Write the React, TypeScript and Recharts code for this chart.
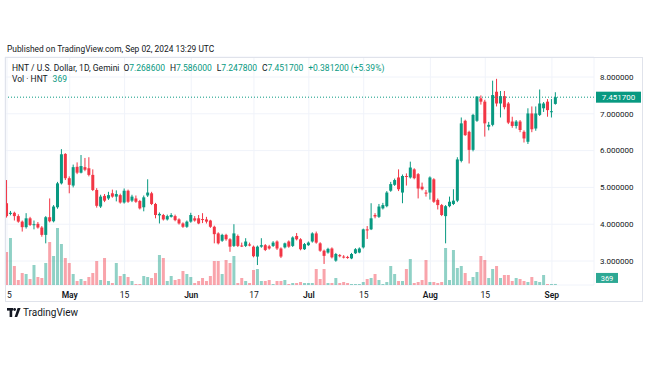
import { Bar, CartesianGrid, Cell, ComposedChart, ReferenceLine, XAxis, YAxis } from 'recharts'

const UP = '#089981'
const DOWN = '#f23645'
const UP_VOL = 'rgba(8,153,129,0.45)'
const DOWN_VOL = 'rgba(242,54,69,0.45)'
const TEXT = '#131722'
const FONT = 'Roboto, "Open Sans", sans-serif'

// HNT/USD daily candles on Gemini, Apr 15 -> Sep 02 2024 (index 0 = Apr 15)
const open = [
  4.57, 4.28, 4.31, 4.22, 4.07, 3.92, 4.16, 3.98, 4.01, 3.91,
  3.71, 4.19, 4.08, 4.46, 5.11, 5.91, 5.25, 5.05, 5.56, 5.40,
  5.55, 5.52, 5.34, 4.93, 4.48, 4.77, 4.70, 4.84, 4.75, 4.79,
  4.59, 4.91, 4.64, 4.70, 4.63, 4.46, 4.78, 4.84, 4.55, 4.24,
  4.25, 4.13, 4.20, 4.22, 4.13, 4.02, 3.93, 4.07, 4.16, 4.16,
  4.14, 4.13, 4.10, 3.93, 3.75, 3.55, 3.71, 3.59, 3.41, 3.68,
  3.42, 3.41, 3.45, 3.39, 3.12, 3.39, 3.43, 3.40, 3.41, 3.53,
  3.34, 3.37, 3.53, 3.41, 3.68, 3.59, 3.32, 3.43, 3.53, 3.75,
  3.48, 3.28, 3.23, 3.34, 3.01, 3.16, 3.12, 3.11, 3.07, 3.21,
  3.23, 3.37, 3.86, 3.86, 4.25, 4.20, 4.43, 4.49, 4.91, 5.07,
  5.27, 4.86, 5.31, 5.27, 5.49, 5.36, 5.02, 4.86, 4.86, 5.22,
  4.66, 4.52, 4.22, 4.49, 4.55, 4.64, 5.72, 6.81, 6.51, 6.02,
  6.81, 7.42, 7.33, 6.65, 6.70, 7.60, 7.28, 7.48, 7.28, 6.79,
  6.67, 6.79, 6.51, 6.24, 7.01, 6.60, 6.97, 7.15, 7.33, 7.05,
  7.2686,
]
const high = [
  5.20, 4.36, 4.34, 4.27, 4.10, 4.30, 4.20, 4.10, 4.06, 3.95,
  4.22, 4.70, 4.52, 5.15, 6.04, 5.93, 5.30, 5.62, 5.68, 5.88,
  5.80, 5.82, 5.49, 4.98, 4.80, 4.82, 4.88, 4.94, 4.92, 4.83,
  4.97, 4.94, 4.80, 4.78, 4.66, 4.78, 5.22, 4.88, 4.58, 4.32,
  4.28, 4.26, 4.30, 4.26, 4.16, 4.05, 4.10, 4.31, 4.22, 4.25,
  4.30, 4.20, 4.12, 3.96, 3.78, 3.74, 3.74, 3.62, 4.00, 3.72,
  3.50, 3.62, 3.50, 3.42, 3.42, 3.62, 3.46, 3.44, 3.54, 3.56,
  3.37, 3.50, 3.56, 3.67, 3.76, 3.62, 3.49, 3.53, 3.78, 3.80,
  3.51, 3.31, 3.36, 3.37, 3.22, 3.19, 3.16, 3.14, 3.22, 3.35,
  3.37, 3.88, 3.95, 4.57, 4.30, 4.55, 4.58, 4.90, 5.15, 5.24,
  5.49, 5.35, 5.38, 5.70, 5.52, 5.39, 5.13, 4.93, 5.30, 5.25,
  4.70, 4.55, 4.52, 4.75, 4.95, 5.82, 6.90, 6.84, 6.54, 7.00,
  7.47, 7.50, 7.38, 6.78, 7.90, 7.95, 7.62, 7.62, 7.32, 6.92,
  6.83, 6.83, 6.55, 7.15, 7.20, 7.20, 7.66, 7.32, 7.40, 7.40,
  7.586,
]
const low = [
  4.18, 4.24, 4.10, 4.04, 3.80, 3.88, 3.95, 3.86, 3.88, 3.66,
  3.48, 4.05, 4.05, 4.42, 5.08, 5.20, 4.84, 5.00, 5.36, 5.38,
  5.44, 5.30, 4.90, 4.45, 4.44, 4.60, 4.66, 4.72, 4.62, 4.56,
  4.56, 4.58, 4.60, 4.58, 4.40, 4.35, 4.74, 4.52, 4.16, 4.02,
  4.10, 4.10, 4.18, 4.08, 3.99, 3.90, 3.90, 4.04, 4.07, 4.00,
  4.03, 4.02, 3.90, 3.48, 3.45, 3.52, 3.55, 3.25, 3.38, 3.38,
  3.38, 3.38, 3.40, 3.10, 2.89, 3.36, 3.27, 3.31, 3.38, 3.30,
  3.08, 3.34, 3.36, 3.38, 3.56, 3.29, 3.30, 3.41, 3.50, 3.47,
  3.25, 2.92, 3.20, 3.07, 2.98, 3.10, 3.07, 3.06, 3.05, 3.19,
  3.21, 3.34, 3.60, 3.84, 4.16, 4.17, 4.40, 4.46, 4.88, 5.04,
  4.90, 4.57, 5.05, 5.24, 5.22, 4.70, 4.92, 4.75, 4.67, 4.58,
  4.40, 4.22, 3.48, 4.46, 4.52, 4.60, 5.68, 6.40, 5.65, 5.98,
  6.78, 7.25, 6.38, 6.55, 6.66, 7.20, 6.90, 7.12, 6.72, 6.62,
  6.60, 6.50, 6.22, 6.18, 6.50, 6.54, 6.94, 7.05, 6.92, 6.90,
  7.2478,
]
const close = [
  4.22, 4.31, 4.22, 4.07, 3.92, 4.16, 3.98, 4.00, 3.91, 3.71,
  4.19, 4.08, 4.48, 5.11, 5.90, 5.25, 5.07, 5.55, 5.40, 5.58,
  5.48, 5.34, 4.93, 4.50, 4.75, 4.64, 4.79, 4.75, 4.82, 4.59,
  4.91, 4.61, 4.75, 4.61, 4.43, 4.73, 4.86, 4.55, 4.25, 4.28,
  4.13, 4.22, 4.25, 4.11, 4.02, 3.93, 4.07, 4.25, 4.10, 4.02,
  4.12, 4.07, 3.93, 3.73, 3.48, 3.71, 3.59, 3.39, 3.75, 3.41,
  3.41, 3.53, 3.42, 3.13, 3.39, 3.43, 3.30, 3.34, 3.50, 3.34,
  3.12, 3.48, 3.39, 3.64, 3.59, 3.32, 3.46, 3.50, 3.75, 3.50,
  3.28, 3.14, 3.33, 3.10, 3.19, 3.13, 3.10, 3.09, 3.19, 3.32,
  3.34, 3.86, 3.83, 4.16, 4.21, 4.48, 4.52, 4.86, 5.09, 5.20,
  4.95, 5.31, 5.29, 5.54, 5.25, 4.97, 4.95, 4.83, 5.27, 4.61,
  4.52, 4.25, 4.49, 4.61, 4.64, 5.76, 6.74, 6.42, 6.02, 6.97,
  7.47, 7.33, 6.74, 6.70, 7.51, 7.28, 7.48, 7.18, 6.76, 6.67,
  6.79, 6.56, 6.33, 7.01, 6.58, 7.01, 7.28, 7.28, 7.10, 7.07,
  7.4517,
]
const volume = [
  11550, 16450, 6650, 1750, 4200, 3850, 2100, 7000, 2800, 2450,
  7700, 15050, 10150, 19950, 14350, 9450, 7700, 3850, 1400, 2100,
  1400, 2800, 4200, 8400, 1750, 9450, 1400, 700, 7700, 3150,
  3850, 2800, 1400, 350, 350, 3150, 2800, 2450, 4200, 10500,
  9450, 1400, 3150, 1750, 2100, 4900, 3850, 2800, 700, 1400,
  2450, 1400, 3150, 8400, 8400, 3850, 8750, 7700, 10150, 700,
  2450, 1400, 700, 5250, 5600, 1400, 1400, 1750, 350, 1400,
  1400, 1750, 350, 700, 700, 1050, 700, 700, 700, 5600,
  2100, 5600, 700, 700, 2450, 700, 1050, 700, 350, 350,
  350, 1050, 2100, 2450, 3850, 1750, 350, 1050, 6650, 3850,
  1400, 1400, 5600, 9100, 700, 1050, 1750, 8750, 1050, 1050,
  700, 1050, 12950, 1750, 12250, 5950, 6650, 4200, 1400, 2800,
  4550, 10150, 8750, 2450, 5600, 6650, 2450, 3500, 3500, 1400,
  2450, 2100, 1400, 1050, 2800, 1400, 1050, 3500, 350, 350,
  369,
]

const tickDays = [0, 16, 30, 47, 63, 77, 91, 108, 122, 139]
const tickLabels = ['15', 'May', '15', 'Jun', '17', 'Jul', '15', 'Aug', '15', 'Sep']
const monthLabels = ['May', 'Jun', 'Jul', 'Aug', 'Sep']
const priceTicks = [3, 4, 5, 6, 7, 8]
const lastPrice = 7.4517
const lastVolume = 369

const xDomain = [-0.51, 149.74]

const data = open.map((o, i) => ({
  day: i,
  o,
  h: high[i],
  l: low[i],
  c: close[i],
  range: [low[i], high[i]],
  vol: volume[i],
}))

function Candle(props: any) {
  const { x, y, width, height, payload } = props
  if (!payload) return null
  const { o, h, l, c } = payload
  const color = c >= o ? UP : DOWN
  const k = h > l ? height / (h - l) : 0
  const top = y + (h - Math.max(o, c)) * k
  const bottom = y + (h - Math.min(o, c)) * k
  const cx = x + width / 2
  return (
    <g>
      <line x1={cx} x2={cx} y1={y} y2={y + height} stroke={color} strokeWidth={1} />
      <rect x={x} y={top} width={width} height={Math.max(1, bottom - top)} fill={color} />
    </g>
  )
}

function TimeTick({ x, y, payload }: any) {
  const label = tickLabels[tickDays.indexOf(payload.value)]
  const bold = monthLabels.includes(label)
  return (
    <text x={x} y={y + 5} textAnchor="middle" fontSize={8.5} fontWeight={bold ? 600 : 400} fill={TEXT} fontFamily={FONT}>
      {label}
    </text>
  )
}

function PriceTag({ viewBox }: any) {
  const left = viewBox.x + viewBox.width + 2
  return (
    <g>
      <rect x={left} y={viewBox.y - 5.5} width={45} height={11} fill={UP} />
      <text x={left + 22.5} y={viewBox.y} dy="0.35em" textAnchor="middle" fontSize={8} fill="#fff" fontFamily={FONT}>
        {lastPrice.toFixed(6)}
      </text>
    </g>
  )
}

function VolTag({ viewBox }: any) {
  const left = viewBox.x + viewBox.width + 2
  return (
    <g>
      <rect x={left} y={viewBox.y - 11} width={22} height={10} fill={UP} opacity={0.85} />
      <text x={left + 11} y={viewBox.y - 6} dy="0.35em" textAnchor="middle" fontSize={7.5} fill="#fff" fontFamily={FONT}>
        {lastVolume}
      </text>
    </g>
  )
}

export default function App() {
  return (
    <div style={{ position: 'absolute', left: 0, top: 0, width: 650, height: 365, background: '#fff', overflow: 'hidden', fontFamily: FONT, color: TEXT }}>
      <div style={{ position: 'absolute', left: 7, top: 44, fontSize: 8.4, whiteSpace: 'nowrap' }}>
        Published on TradingView.com, Sep 02, 2024 13:29 UTC
      </div>

      <ComposedChart width={650} height={365} data={data} margin={{ top: 57, right: 0, bottom: 60, left: 5 }}>
        <CartesianGrid stroke="#f0f3fa" />
        <XAxis
          dataKey="day"
          type="number"
          domain={xDomain}
          ticks={tickDays}
          interval={0}
          tick={<TimeTick />}
          axisLine={false}
          tickLine={false}
          tickSize={6}
          tickMargin={2}
          height={20}
          allowDataOverflow
        />
        <XAxis xAxisId="v" dataKey="day" type="number" domain={xDomain} hide allowDataOverflow />
        <YAxis
          orientation="right"
          domain={[2.348, 8.5435]}
          ticks={priceTicks}
          interval={0}
          tickFormatter={(v: number) => v.toFixed(6)}
          axisLine={false}
          tickLine={false}
          tickSize={5}
          tickMargin={1}
          width={56}
          tick={{ fill: TEXT, fontSize: 8, fontFamily: FONT }}
          allowDataOverflow
        />
        <YAxis yAxisId="v" domain={[0, 79800]} hide allowDataOverflow />
        <Bar xAxisId="v" yAxisId="v" dataKey="vol" barSize={3} isAnimationActive={false}>
          {data.map((d) => (
            <Cell key={d.day} fill={d.c >= d.o ? UP_VOL : DOWN_VOL} />
          ))}
        </Bar>
        <Bar dataKey="range" barSize={3} shape={<Candle />} isAnimationActive={false} />
        <ReferenceLine y={lastPrice} stroke={UP} strokeDasharray="1 2" label={<PriceTag />} />
        <ReferenceLine xAxisId="v" yAxisId="v" y={lastVolume} stroke="none" label={<VolTag />} />
      </ComposedChart>

      <div style={{ position: 'absolute', left: 12, top: 62, fontSize: 8.5, whiteSpace: 'nowrap', lineHeight: '12px' }}>
        <span style={{ marginRight: 4 }}>HNT / U.S. Dollar, 1D, Gemini</span>
        <span style={{ marginRight: 5 }}>O<span style={{ color: UP }}>7.268600</span></span>
        <span style={{ marginRight: 5 }}>H<span style={{ color: UP }}>7.586000</span></span>
        <span style={{ marginRight: 5 }}>L<span style={{ color: UP }}>7.247800</span></span>
        <span style={{ marginRight: 5 }}>C<span style={{ color: UP }}>7.451700</span></span>
        <span style={{ color: UP }}>+0.381200 (+5.39%)</span>
      </div>
      <div style={{ position: 'absolute', left: 12, top: 73, fontSize: 8.5, whiteSpace: 'nowrap', lineHeight: '12px' }}>
        Vol · HNT <span style={{ color: UP, marginLeft: 3 }}>369</span>
      </div>

      <div style={{ position: 'absolute', left: 0, top: 286, width: 5.5, height: 15, background: '#fff' }} />
      <div style={{ position: 'absolute', left: 5, top: 57, width: 638, height: 245, border: '1px solid #e0e3eb', boxSizing: 'border-box', pointerEvents: 'none' }} />

      <div style={{ position: 'absolute', left: 7, top: 307, display: 'flex', alignItems: 'center', whiteSpace: 'nowrap' }}>
        <svg width={14} height={9} viewBox="0 0 14 9">
          <rect x={0} y={0} width={6} height={2.6} fill={TEXT} />
          <rect x={2.6} y={0} width={2.6} height={9} fill={TEXT} />
          <circle cx={7.6} cy={1.5} r={1.4} fill={TEXT} />
          <polygon points="10.6,0 13.6,0 10.2,9 7.6,9" fill={TEXT} />
        </svg>
        <span style={{ fontSize: 10, marginLeft: 2 }}>TradingView</span>
      </div>
    </div>
  )
}
